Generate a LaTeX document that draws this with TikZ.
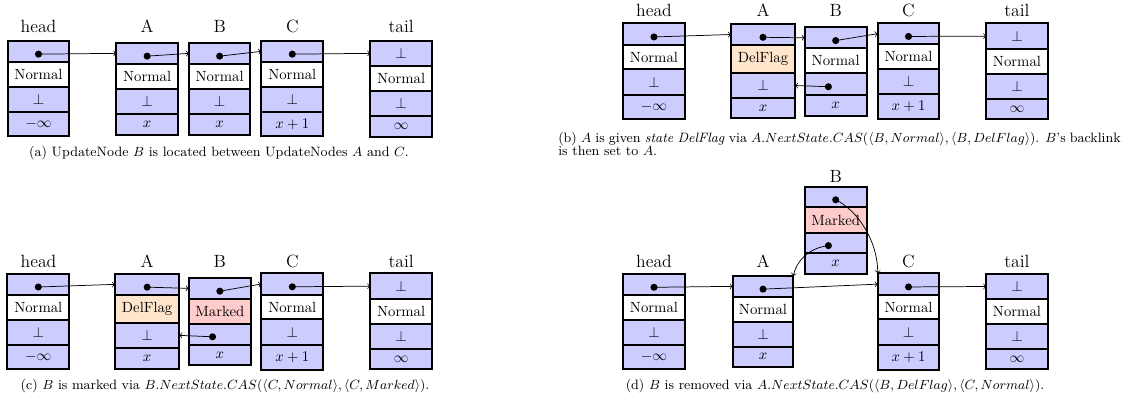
\documentclass[tikz,border=0pt]{standalone}
\usetikzlibrary{calc}
\def\pxu{0.6775pt}
\tikzset{
  cell/.style={draw=black, line width=1.1pt, fill=blue!20, inner sep=0pt, outer sep=0pt, font=\fontsize{10}{12}\selectfont},
  norm/.style={fill=white},
  delfill/.style={fill=orange!20},
  markfill/.style={fill=red!20},
  ptrdot/.style={circle, fill=black, inner sep=0pt, minimum size=4.8pt},
  ptr/.style={->, line width=0.5pt},
  lbl/.style={anchor=base, font=\fontsize{12}{14}\selectfont, inner sep=0pt},
  captext/.style={anchor=base, font=\fontsize{9.2}{9}\selectfont, inner sep=0pt},
}
\newcommand\cell[7]{\node[cell,#6,minimum width={(#3-#2)*\pxu},minimum height={(#5-#4)*\pxu}] (#1) at ({(#2+#3)/2},{(#4+#5)/2}) {#7};}
\begin{document}
\begin{tikzpicture}[x=0.6775pt, y=-0.6775pt]
\useasboundingbox (0,0) rectangle (1129,394);

% ================= (a) =================
\cell{ah1}{8}{69}{41}{61.7}{}{}
\cell{ah2}{8}{69}{61.7}{87.3}{norm}{Normal}
\cell{ah3}{8}{69}{87.3}{112.3}{}{$\bot$}
\cell{ah4}{8}{69}{112.3}{136}{}{$-\infty$}
\cell{aA1}{116.3}{178}{42.7}{64}{}{}
\cell{aA2}{116.3}{178}{64}{88.7}{norm}{Normal}
\cell{aA3}{116.3}{178}{88.7}{113.7}{}{$\bot$}
\cell{aA4}{116.3}{178}{113.7}{134.7}{}{$x$}
\cell{aB1}{189}{250.3}{42.7}{64}{}{}
\cell{aB2}{189}{250.3}{64}{88.7}{norm}{Normal}
\cell{aB3}{189}{250.3}{88.7}{113.7}{}{$\bot$}
\cell{aB4}{189}{250.3}{113.7}{134.7}{}{$x$}
\cell{aC1}{261.3}{323.3}{41}{61.7}{}{}
\cell{aC2}{261.3}{323.3}{61.7}{87.3}{norm}{Normal}
\cell{aC3}{261.3}{323.3}{87.3}{112.3}{}{$\bot$}
\cell{aC4}{261.3}{323.3}{112.3}{136}{}{$x+1$}
\cell{at1}{370.3}{432}{40.7}{66}{}{$\bot$}
\cell{at2}{370.3}{432}{66}{90.7}{norm}{Normal}
\cell{at3}{370.3}{432}{90.7}{115.7}{}{$\bot$}
\cell{at4}{370.3}{432}{115.7}{136.7}{}{$\infty$}
\node[ptrdot] (ahd) at ($(ah1.center)+(0,2.8)$) {};
\node[ptrdot] (aAd) at ($(aA1.center)+(0,2.8)$) {};
\node[ptrdot] (aBd) at ($(aB1.center)+(0,2.8)$) {};
\node[ptrdot] (aCd) at ($(aC1.center)+(0,2.8)$) {};
\draw[ptr] (ahd.center) -- (aA1.west);
\draw[ptr] (aAd.center) -- (aB1.west);
\draw[ptr] (aBd.center) -- (aC1.west);
\draw[ptr] (aCd.center) -- (at1.west);
\node[lbl] (ahl) at (38.5,32.7) {head};
\node[lbl] (aAl) at (147.2,32.7) {A};
\node[lbl] (aBl) at (219.7,32.7) {B};
\node[lbl] (aCl) at (292.3,32.7) {C};
\node[lbl] (atl) at (401.2,32.7) {tail};
\node[captext] (acap) at (219,156) {(a) UpdateNode $B$ is located between UpdateNodes $A$ and $C$.};

% ================= (b) =================
\cell{bh1}{623.3}{684.7}{23.3}{45}{}{}
\cell{bh2}{623.3}{684.7}{45}{69.3}{norm}{Normal}
\cell{bh3}{623.3}{684.7}{69.3}{94.7}{}{$\bot$}
\cell{bh4}{623.3}{684.7}{94.7}{119}{}{$-\infty$}
\cell{bA1}{731}{795}{24}{45}{}{}
\cell{bA2}{731}{795}{45}{73}{delfill}{DelFlag}
\cell{bA3}{731}{795}{73}{98}{}{$\bot$}
\cell{bA4}{731}{795}{98}{118.3}{}{$x$}
\cell{bB1}{804.7}{866.7}{27.3}{48.3}{}{}
\cell{bB2}{804.7}{866.7}{48.3}{73.3}{norm}{Normal}
\cell{bB3}{804.7}{866.7}{73.3}{95}{}{}
\cell{bB4}{804.7}{866.7}{95}{115.7}{}{$x$}
\cell{bC1}{877.7}{939.3}{23}{44.3}{}{}
\cell{bC2}{877.7}{939.3}{44.3}{69.3}{norm}{Normal}
\cell{bC3}{877.7}{939.3}{69.3}{94.3}{}{$\bot$}
\cell{bC4}{877.7}{939.3}{94.3}{119}{}{$x+1$}
\cell{bt1}{986.3}{1047.7}{23.3}{49}{}{$\bot$}
\cell{bt2}{986.3}{1047.7}{49}{74}{norm}{Normal}
\cell{bt3}{986.3}{1047.7}{74}{98.7}{}{$\bot$}
\cell{bt4}{986.3}{1047.7}{98.7}{119}{}{$\infty$}
\node[ptrdot] (bhd) at ($(bh1.center)+(0,2.8)$) {};
\node[ptrdot] (bAd) at ($(bA1.center)+(0,2.8)$) {};
\node[ptrdot] (bBd) at ($(bB1.center)+(0,2.8)$) {};
\node[ptrdot] (bBb) at ($(bB3.center)+(-7.3,2.6)$) {};
\node[ptrdot] (bCd) at ($(bC1.center)+(0,2.8)$) {};
\draw[ptr] (bhd.center) -- (bA1.west);
\draw[ptr] (bAd.center) -- (bB1.west);
\draw[ptr] (bBd.center) -- (bC1.west);
\draw[ptr] (bCd.center) -- (bt1.west);
\draw[ptr] (bBb.center) -- (bA3.east);
\node[lbl] (bhl) at (654,16.5) {head};
\node[lbl] (bAl) at (763,16.5) {A};
\node[lbl] (bBl) at (835.7,16.5) {B};
\node[lbl] (bCl) at (908.5,16.5) {C};
\node[lbl] (btl) at (1017,16.5) {tail};
\node[captext, anchor=base west, text width=381pt, align=justify] (bcap) at (558,142) {(b) $A$ is given \emph{state DelFlag} via $A.NextState.CAS(\langle B, Normal\rangle, \langle B, DelFlag\rangle)$. $B$'s backlink\linebreak is then set to $A$.};

% ================= (c) =================
\cell{ch1}{7.3}{69.3}{273.7}{294.7}{}{}
\cell{ch2}{7.3}{69.3}{294.7}{320}{norm}{Normal}
\cell{ch3}{7.3}{69.3}{320}{344.7}{}{$\bot$}
\cell{ch4}{7.3}{69.3}{344.7}{369.3}{}{$-\infty$}
\cell{cA1}{115}{179.3}{273.7}{295}{}{}
\cell{cA2}{115}{179.3}{295}{323}{delfill}{DelFlag}
\cell{cA3}{115}{179.3}{323}{347.7}{}{$\bot$}
\cell{cA4}{115}{179.3}{347.7}{369.3}{}{$x$}
\cell{cB1}{188.7}{251}{277.7}{299}{}{}
\cell{cB2}{188.7}{251}{299}{323.7}{markfill}{Marked}
\cell{cB3}{188.7}{251}{323.7}{344.7}{}{}
\cell{cB4}{188.7}{251}{344.7}{365.3}{}{$x$}
\cell{cC1}{261.3}{323.3}{273.3}{294.7}{}{}
\cell{cC2}{261.3}{323.3}{294.7}{319.3}{norm}{Normal}
\cell{cC3}{261.3}{323.3}{319.3}{344.7}{}{$\bot$}
\cell{cC4}{261.3}{323.3}{344.7}{370}{}{$x+1$}
\cell{ct1}{370.3}{432}{273.3}{299}{}{$\bot$}
\cell{ct2}{370.3}{432}{299}{324}{norm}{Normal}
\cell{ct3}{370.3}{432}{324}{349}{}{$\bot$}
\cell{ct4}{370.3}{432}{349}{369.3}{}{$\infty$}
\node[ptrdot] (chd) at ($(ch1.center)+(0,2.8)$) {};
\node[ptrdot] (cAd) at ($(cA1.center)+(0,2.8)$) {};
\node[ptrdot] (cBd) at ($(cB1.center)+(0,2.8)$) {};
\node[ptrdot] (cBb) at ($(cB3.center)+(-7.3,2.6)$) {};
\node[ptrdot] (cCd) at ($(cC1.center)+(0,2.8)$) {};
\draw[ptr] (chd.center) -- (cA1.west);
\draw[ptr] (cAd.center) -- (cB1.west);
\draw[ptr] (cBd.center) -- (cC1.west);
\draw[ptr] (cCd.center) -- (ct1.west);
\draw[ptr] (cBb.center) -- (cA3.east);
\node[lbl] (chl) at (38.5,267) {head};
\node[lbl] (cAl) at (147.2,267) {A};
\node[lbl] (cBl) at (219.8,267) {B};
\node[lbl] (cCl) at (292.3,267) {C};
\node[lbl] (ctl) at (401.2,267) {tail};
\node[captext] (ccap) at (225,389) {(c) $B$ is marked via $B.NextState.CAS(\langle C, Normal\rangle, \langle C, Marked\rangle)$.};

% ================= (d) =================
\cell{dh1}{623.3}{684.7}{274}{295}{}{}
\cell{dh2}{623.3}{684.7}{295}{320}{norm}{Normal}
\cell{dh3}{623.3}{684.7}{320}{344.7}{}{$\bot$}
\cell{dh4}{623.3}{684.7}{344.7}{369.3}{}{$-\infty$}
\cell{dA1}{732.7}{793.3}{276}{296.7}{}{}
\cell{dA2}{732.7}{793.3}{296.7}{321.7}{norm}{Normal}
\cell{dA3}{732.7}{793.3}{321.7}{346.7}{}{$\bot$}
\cell{dA4}{732.7}{793.3}{346.7}{366.7}{}{$x$}
\cell{dB1}{804.7}{866.7}{186.7}{207.3}{}{}
\cell{dB2}{804.7}{866.7}{207.3}{232.7}{markfill}{Marked}
\cell{dB3}{804.7}{866.7}{232.7}{253.3}{}{}
\cell{dB4}{804.7}{866.7}{253.3}{274}{}{$x$}
\cell{dC1}{877.7}{939.3}{273.3}{295}{}{}
\cell{dC2}{877.7}{939.3}{295}{319.3}{norm}{Normal}
\cell{dC3}{877.7}{939.3}{319.3}{344.7}{}{$\bot$}
\cell{dC4}{877.7}{939.3}{344.7}{370}{}{$x+1$}
\cell{dt1}{986.3}{1047.7}{274}{299}{}{$\bot$}
\cell{dt2}{986.3}{1047.7}{299}{324}{norm}{Normal}
\cell{dt3}{986.3}{1047.7}{324}{349}{}{$\bot$}
\cell{dt4}{986.3}{1047.7}{349}{369.3}{}{$\infty$}
\node[ptrdot] (dhd) at ($(dh1.center)+(0,2.8)$) {};
\node[ptrdot] (dAd) at ($(dA1.center)+(0,2.8)$) {};
\node[ptrdot] (dBd) at ($(dB1.center)+(0,2.8)$) {};
\node[ptrdot] (dBb) at ($(dB3.center)+(-7.3,2.6)$) {};
\node[ptrdot] (dCd) at ($(dC1.center)+(0,2.8)$) {};
\draw[ptr] (dhd.center) -- (dA1.west);
\draw[ptr] (dAd.center) -- (dC1.west);
\draw[ptr] (dCd.center) -- (dt1.west);
\draw[ptr] (dBd.center) .. controls (857,210) and (877.7,240) .. (dC1.north west);
\draw[ptr] (dBb.center) .. controls (808,248) and (796,262) .. (dA1.north east);
\node[lbl] (dhl) at (654,267) {head};
\node[lbl] (dAl) at (763,267) {A};
\node[lbl] (dBl) at (835.7,182.3) {B};
\node[lbl] (dCl) at (908.5,267) {C};
\node[lbl] (dtl) at (1017,267) {tail};
\node[captext] (dcap) at (835,389) {(d) $B$ is removed via $A.NextState.CAS(\langle B, DelFlag\rangle, \langle C, Normal\rangle)$.};
\end{tikzpicture}
\end{document}
